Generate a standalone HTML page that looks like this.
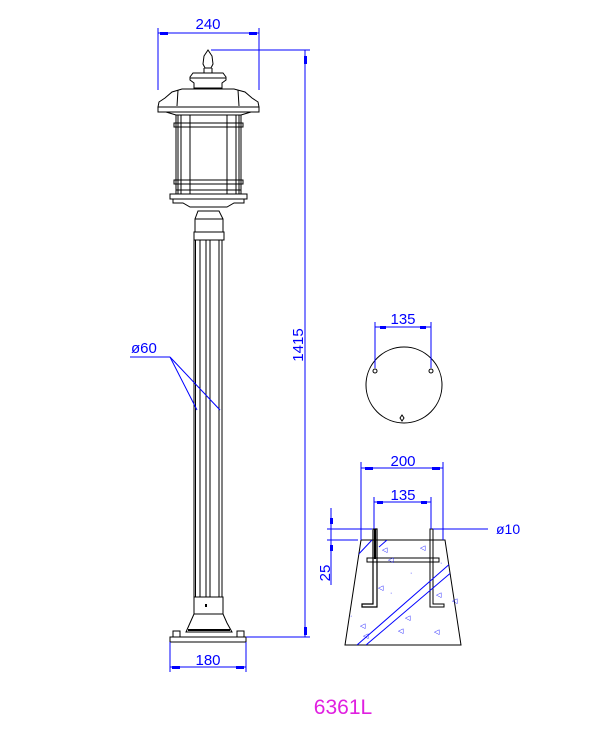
<!DOCTYPE html>
<html><head><style>body{margin:0;background:#fff}svg{display:block}</style></head><body>
<svg width="600" height="735" viewBox="0 0 600 735" xmlns="http://www.w3.org/2000/svg" font-family="Liberation Sans, sans-serif">
<defs><clipPath id="tz"><path d="M361,540 L445,540 L461,645 L345,645 Z"/></clipPath></defs>
<g stroke="#000" stroke-width="1" fill="none">
<path d="M208,50 L204,56 L203,64 L205,68 L211,68 L213,64 L212,56 Z"/>
<line x1="204" y1="68" x2="204" y2="73"/><line x1="212" y1="68" x2="212" y2="73"/>
<path d="M193,73 L223,73 L226,77 L226,80 L222,83 L222,88 L194,88 L194,83 L190,80 L190,77 Z"/>
<line x1="190" y1="78" x2="226" y2="78"/>
<path d="M182,89 L234,89 L245,92 L252,98 L258,102 L259,107 L158,107 L159,102 L165,98 L172,92 Z"/>
<line x1="178" y1="90" x2="177" y2="106"/><line x1="238" y1="90" x2="239" y2="106"/>
<rect x="158" y="107" width="101" height="5"/>
<path d="M166,112 L176,115 L241,115 L251,112"/>
<rect x="174" y="123" width="69" height="4"/>
<rect x="174" y="180" width="69" height="4"/>
<rect x="170" y="194" width="77" height="5"/>
<line x1="176" y1="115" x2="176" y2="194"/><line x1="178" y1="115" x2="178" y2="194"/>
<line x1="181" y1="115" x2="181" y2="194"/><line x1="190" y1="115" x2="190" y2="194"/>
<line x1="241" y1="115" x2="241" y2="194"/><line x1="239" y1="115" x2="239" y2="194"/>
<line x1="236" y1="115" x2="236" y2="194"/><line x1="227" y1="115" x2="227" y2="194"/>
<line x1="176" y1="190" x2="241" y2="190"/>
<path d="M173,199 L173,203 L183,203 L190,207 L227,207 L234,203 L244,203 L244,199"/>
<path d="M198,211 L219,211 L223,219 L223,232 L195,232 L195,219 Z"/>
<line x1="195" y1="219" x2="223" y2="219"/>
<rect x="194" y="232" width="30" height="8"/>
<line x1="194" y1="240" x2="194" y2="597"/><line x1="195.5" y1="240" x2="195.5" y2="597"/>
<line x1="200" y1="240" x2="200" y2="597"/><line x1="206" y1="240" x2="206" y2="597"/>
<line x1="210" y1="240" x2="210" y2="597"/><line x1="219" y1="240" x2="219" y2="597"/>
<line x1="222" y1="240" x2="222" y2="597"/>
<rect x="194" y="597" width="29" height="17"/>
<path d="M194,614 L190,623 L186,632 L232,632 L227,623 L223,614"/>
<line x1="188" y1="630" x2="230" y2="630" stroke-width="2"/>
<rect x="173" y="631" width="7" height="6"/><rect x="237" y="631" width="7" height="6"/>
<rect x="170" y="637" width="76" height="5"/>
<circle cx="404" cy="385" r="38"/>
<circle cx="375" cy="371" r="2"/><circle cx="431" cy="371" r="2"/>
<path d="M402,415 L404,418 L402,421 L400,418 Z"/>
<path d="M361,540 L445,540 L461,645 L345,645 Z"/>
<path d="M373,529 L377,529 L377,607 L362,607 L362,604 L373,604 Z" stroke-width="1.2"/>
<path d="M430,529 L433,529 L433,604 L444,604 L444,607 L430,607 Z"/>
<rect x="367" y="558" width="72" height="4"/>
</g>
<rect x="374" y="529" width="2" height="30" fill="#000"/>
<rect x="205" y="604" width="2" height="3" fill="#000"/>
<g stroke="#00f" stroke-width="1" clip-path="url(#tz)">
<line x1="355" y1="558" x2="372" y2="540"/><line x1="379" y1="547" x2="387" y2="540"/>
<line x1="357" y1="645" x2="460" y2="555"/><line x1="366" y1="645" x2="460" y2="565"/>
</g>
<g fill="#00f" font-size="7">
<text x="382" y="552">◁</text><text x="388" y="562">◁</text><text x="378" y="590">◁</text><text x="390" y="595">·</text>
<text x="420" y="550">◁</text><text x="436" y="597">◁</text><text x="405" y="620">◁</text><text x="360" y="628">◁</text>
<text x="363" y="638">◁</text><text x="398" y="633">◁</text><text x="434" y="634">◁</text><text x="452" y="603">◁</text>
<text x="410" y="575">·</text><text x="350" y="618">·</text><text x="440" y="565">·</text><text x="420" y="600">·</text>
</g>
<g stroke="#00f" stroke-width="1">
<line x1="158" y1="33" x2="259" y2="33"/><line x1="158" y1="28" x2="158" y2="90"/><line x1="259" y1="28" x2="259" y2="90"/>
<line x1="211" y1="50" x2="310" y2="50"/><line x1="305" y1="50" x2="305" y2="637"/><line x1="246" y1="637" x2="310" y2="637"/>
<line x1="170" y1="642" x2="170" y2="672"/><line x1="246" y1="642" x2="246" y2="672"/><line x1="170" y1="667" x2="246" y2="667"/>
<line x1="130" y1="357" x2="170" y2="357"/><line x1="170" y1="357" x2="197" y2="410"/><line x1="170" y1="357" x2="220" y2="410"/>
<line x1="375" y1="322" x2="375" y2="368"/><line x1="431" y1="322" x2="431" y2="368"/><line x1="375" y1="327" x2="431" y2="327"/>
<line x1="361" y1="462" x2="361" y2="540"/><line x1="443" y1="462" x2="443" y2="540"/><line x1="361" y1="468" x2="443" y2="468"/>
<line x1="374" y1="497" x2="374" y2="529"/><line x1="431" y1="497" x2="431" y2="529"/><line x1="374" y1="502" x2="431" y2="502"/>
<line x1="433" y1="529" x2="488" y2="529"/>
<line x1="327" y1="529" x2="372" y2="529"/><line x1="327" y1="540" x2="358" y2="540"/>
<line x1="331" y1="508" x2="331" y2="585"/>
</g>
<g fill="#00f">
<rect x="160" y="32" width="8" height="3"/><rect x="249" y="32" width="8" height="3"/>
<rect x="304" y="56" width="3" height="8"/><rect x="304" y="627" width="3" height="8"/>
<rect x="172" y="666" width="8" height="3"/><rect x="236" y="666" width="8" height="3"/>
<rect x="380" y="326" width="6" height="3"/><rect x="420" y="326" width="6" height="3"/>
<rect x="365" y="467" width="8" height="3"/><rect x="432" y="467" width="8" height="3"/>
<rect x="377" y="501" width="6" height="3"/><rect x="421" y="501" width="6" height="3"/>
<rect x="330" y="518" width="3" height="6"/><rect x="330" y="545" width="3" height="6"/>
<g font-size="15">
<text x="208" y="29" text-anchor="middle">240</text>
<text x="208" y="665" text-anchor="middle">180</text>
<text x="131" y="353">ø60</text>
<text x="403" y="324" text-anchor="middle">135</text>
<text x="403" y="466" text-anchor="middle">200</text>
<text x="403" y="500" text-anchor="middle">135</text>
<text x="496" y="534" font-size="14">ø10</text>
<text transform="translate(303,345) rotate(-90)" text-anchor="middle">1415</text>
<text transform="translate(330,573) rotate(-90)" text-anchor="middle">25</text>
</g>
</g>
<text x="343" y="714" text-anchor="middle" font-size="21" fill="#e020e0">6361L</text>
</svg>
</body></html>
